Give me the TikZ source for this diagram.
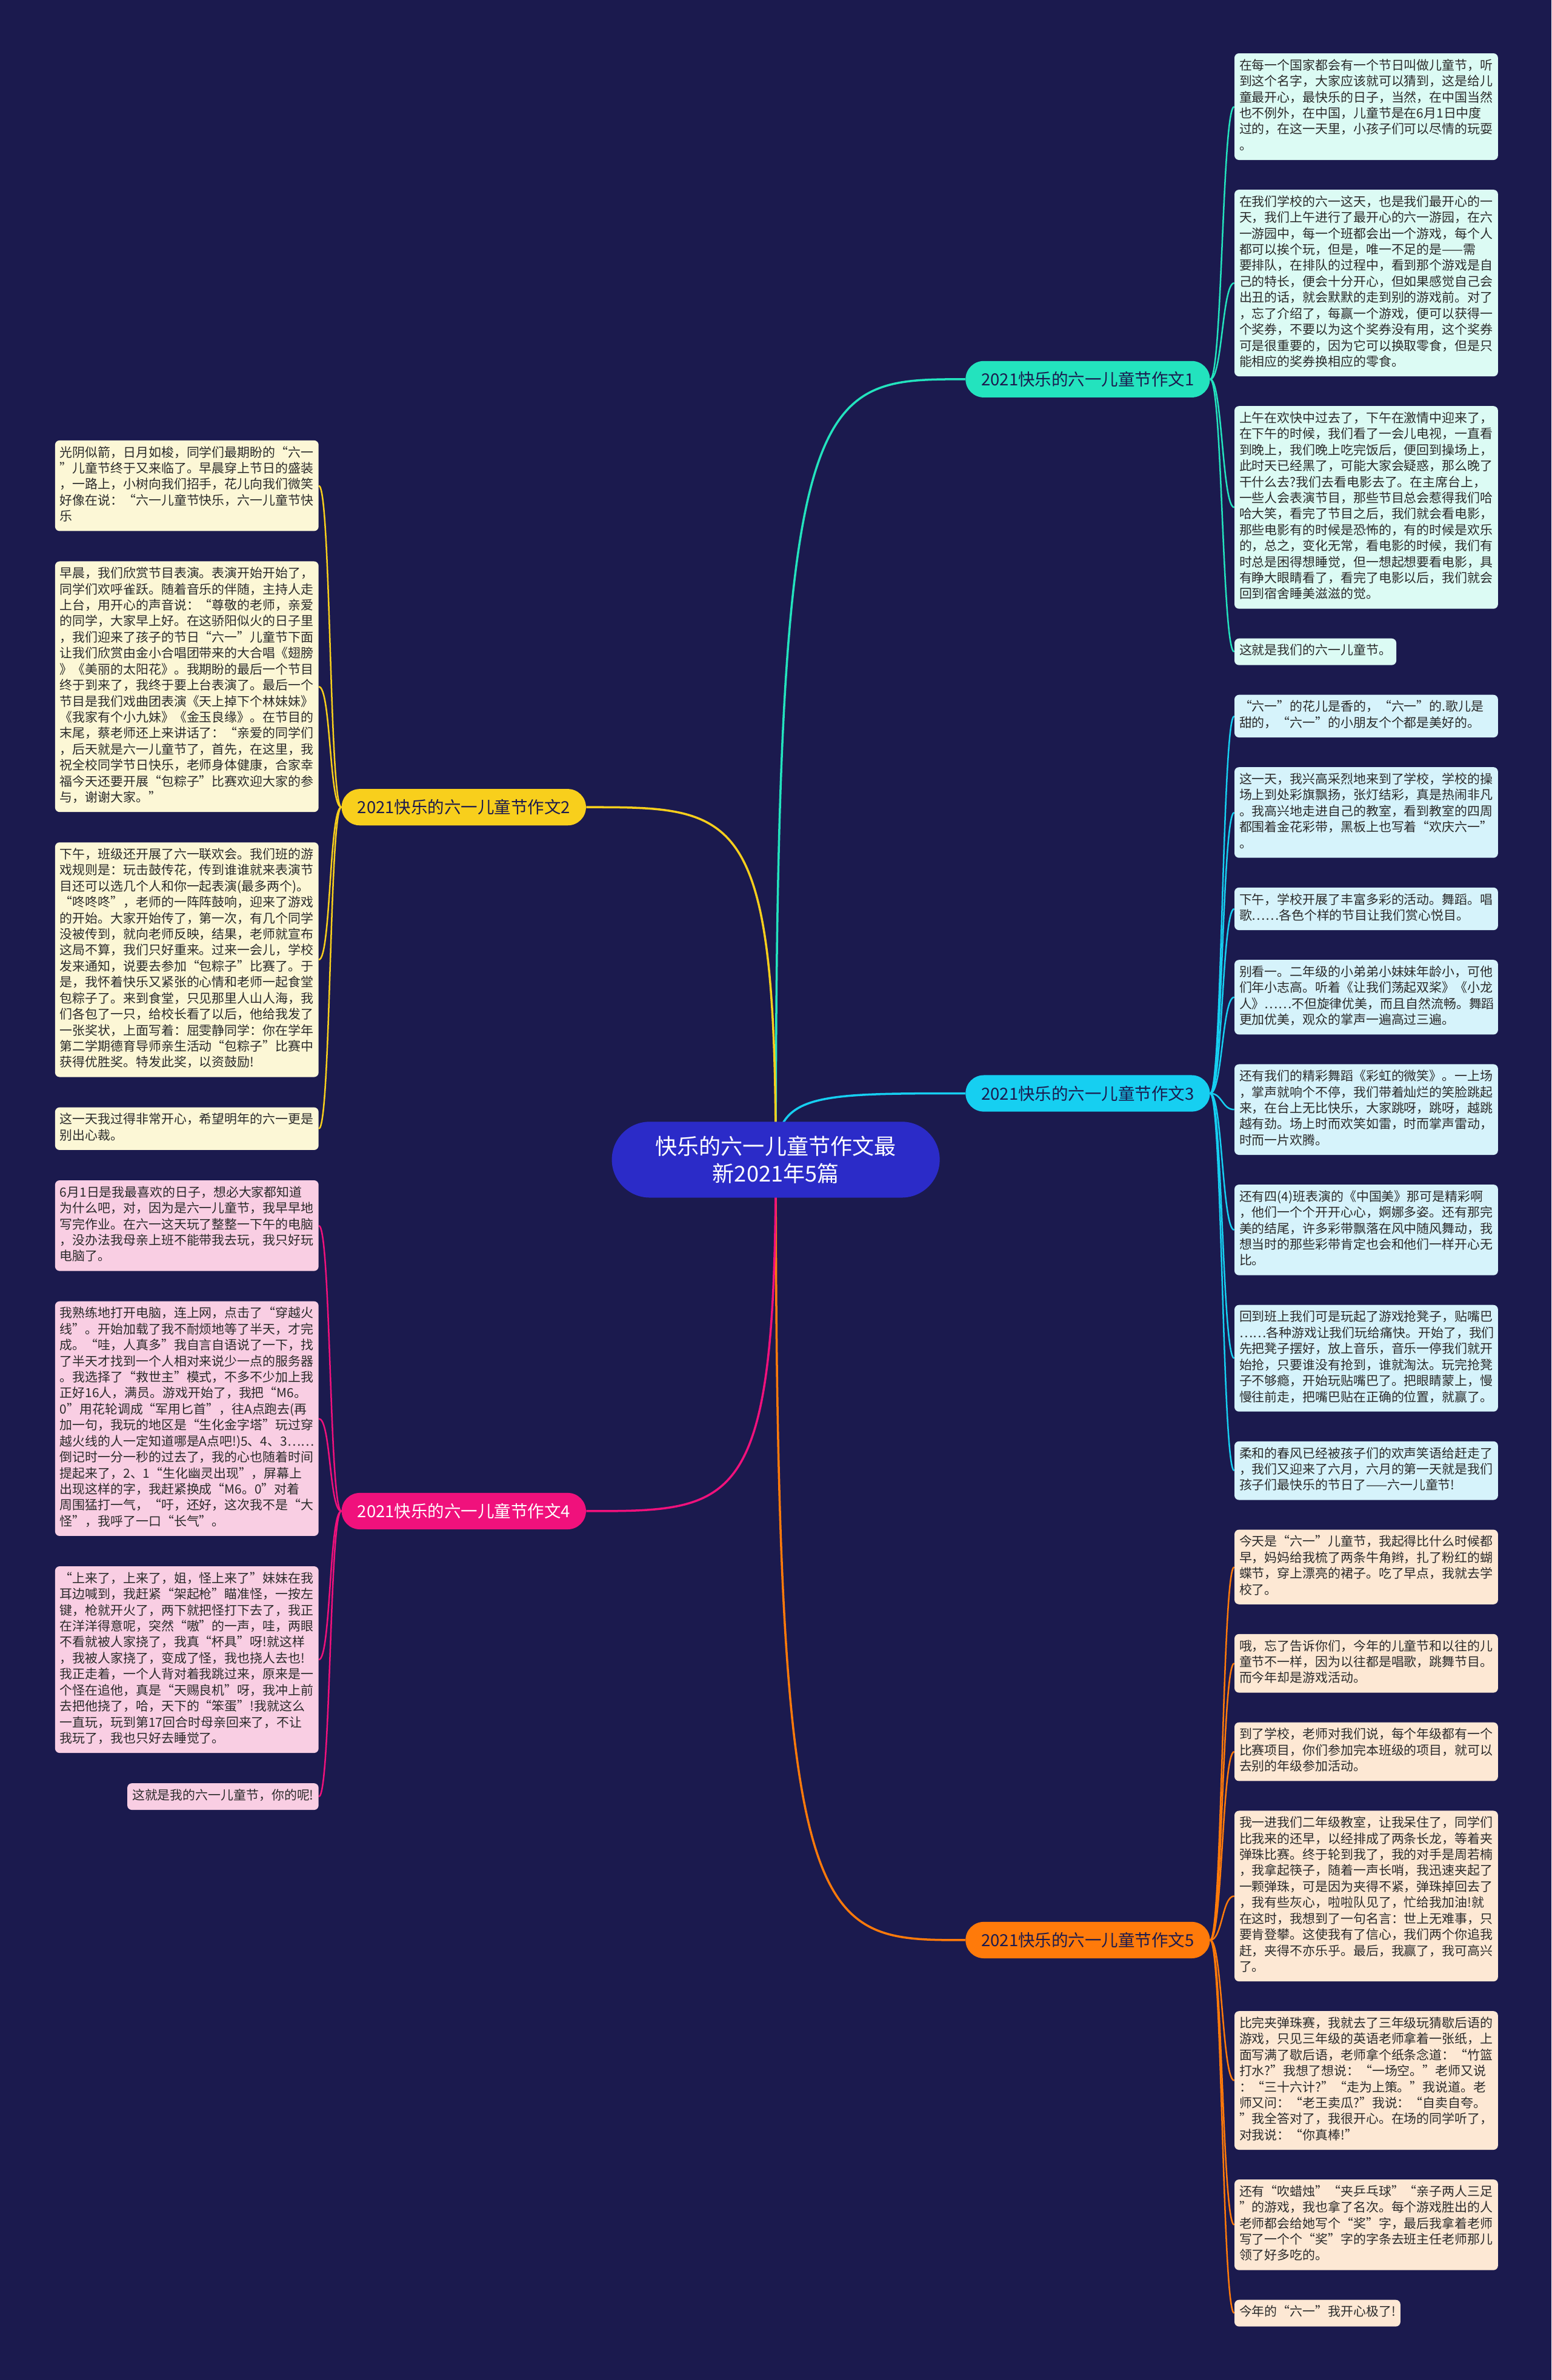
\documentclass[tikz,border=0pt]{standalone}
\usepackage{fontspec}
\setmainfont{Noto Sans CJK SC}
\usepackage{xcolor}
\usetikzlibrary{positioning,calc}
\definecolor{night}{HTML}{1B1A4E}
\definecolor{hubblue}{HTML}{2B2BC8}
\definecolor{ink}{HTML}{2A2A2A}
\definecolor{mint}{HTML}{23E3BE}
\definecolor{mintpale}{HTML}{DCFBF4}
\definecolor{sky}{HTML}{16CFF1}
\definecolor{skypale}{HTML}{D6F3FB}
\definecolor{amber}{HTML}{FF7A0A}
\definecolor{amberpale}{HTML}{FDE8D4}
\definecolor{gold}{HTML}{F8CF1C}
\definecolor{goldpale}{HTML}{FCF7D6}
\definecolor{rose}{HTML}{F0117C}
\definecolor{rosepale}{HTML}{F9CEE3}
\pgfdeclarelayer{bg}
\pgfsetlayers{bg,main}

\begin{document}
\begin{tikzpicture}[
    x=0.05cm, y=-0.05cm,
    node distance=0.985cm,
    leaf/.style={fill=#1, rounded corners=0.15cm, inner xsep=0.16cm, inner ysep=0.175cm,
      align=left, text=ink, font=\fontsize{11.88pt}{15pt}\selectfont,
      execute at begin node=\strut, execute at end node=\strut},
    wide/.style={text width=8.36cm},
    branch/.style={fill=#1, rounded corners=0.6cm, minimum width=8.05cm, minimum height=1.2cm,
      inner sep=0pt, text=night, font=\fontsize{15.6pt}{18pt}\selectfont},
    hub/.style={fill=hubblue, rounded corners=1.25cm, minimum width=10.8cm, minimum height=2.5cm,
      inner sep=0pt, align=center, text=white, font=\fontsize{20.5pt}{25.6pt}\selectfont},
    trunk/.style={draw=#1, line width=0.07cm},
    twig/.style={draw=#1, line width=0.05cm}
  ]
  \begin{pgfonlayer}{bg}
    \fill[night] (0,0) rectangle (1022,1568);
  \end{pgfonlayer}
  \useasboundingbox (0,0) rectangle (1022,1568);

  \begin{scope}[node distance=0.965cm]
  % essay 1
  \node[leaf=mintpale, wide, anchor=north west] (R1) at (813,35) {在每一个国家都会有一个节日叫做儿童节，听\\
到这个名字，大家应该就可以猜到，这是给儿\\
童最开心，最快乐的日子，当然，在中国当然\\
也不例外，在中国，儿童节是在6月1日中度\\
过的，在这一天里，小孩子们可以尽情的玩耍\\
。};
  \node[leaf=mintpale, wide, below=of R1.south west, anchor=north west] (R2) {在我们学校的六一这天，也是我们最开心的一\\
天，我们上午进行了最开心的六一游园，在六\\
一游园中，每一个班都会出一个游戏，每个人\\
都可以挨个玩，但是，唯一不足的是——需\\
要排队，在排队的过程中，看到那个游戏是自\\
己的特长，便会十分开心，但如果感觉自己会\\
出丑的话，就会默默的走到别的游戏前。对了\\
，忘了介绍了，每赢一个游戏，便可以获得一\\
个奖券，不要以为这个奖券没有用，这个奖券\\
可是很重要的，因为它可以换取零食，但是只\\
能相应的奖券换相应的零食。};
  \node[leaf=mintpale, wide, below=of R2.south west, anchor=north west] (R3) {上午在欢快中过去了，下午在激情中迎来了，\\
在下午的时候，我们看了一会儿电视，一直看\\
到晚上，我们晚上吃完饭后，便回到操场上，\\
此时天已经黑了，可能大家会疑惑，那么晚了\\
干什么去?我们去看电影去了。在主席台上，\\
一些人会表演节目，那些节目总会惹得我们哈\\
哈大笑，看完了节目之后，我们就会看电影，\\
那些电影有的时候是恐怖的，有的时候是欢乐\\
的，总之，变化无常，看电影的时候，我们有\\
时总是困得想睡觉，但一想起想要看电影，具\\
有睁大眼睛看了，看完了电影以后，我们就会\\
回到宿舍睡美滋滋的觉。};
  \node[leaf=mintpale, below=of R3.south west, anchor=north west] (R4) {这就是我们的六一儿童节。};

  % essay 3
  \node[leaf=skypale, wide, below=of R4.south west, anchor=north west] (R5) {“六一”的花儿是香的，“六一”的.歌儿是\\
甜的，“六一”的小朋友个个都是美好的。};
  \node[leaf=skypale, wide, below=of R5.south west, anchor=north west] (R6) {这一天，我兴高采烈地来到了学校，学校的操\\
场上到处彩旗飘扬，张灯结彩，真是热闹非凡\\
。我高兴地走进自己的教室，看到教室的四周\\
都围着金花彩带，黑板上也写着“欢庆六一”\\
。};
  \node[leaf=skypale, wide, below=of R6.south west, anchor=north west] (R7) {下午，学校开展了丰富多彩的活动。舞蹈。唱\\
歌……各色个样的节目让我们赏心悦目。};
  \node[leaf=skypale, wide, below=of R7.south west, anchor=north west] (R8) {别看一。二年级的小弟弟小妹妹年龄小，可他\\
们年小志高。听着《让我们荡起双桨》《小龙\\
人》……不但旋律优美，而且自然流畅。舞蹈\\
更加优美，观众的掌声一遍高过三遍。};
  \node[leaf=skypale, wide, below=of R8.south west, anchor=north west] (R9) {还有我们的精彩舞蹈《彩虹的微笑》。一上场\\
，掌声就响个不停，我们带着灿烂的笑脸跳起\\
来，在台上无比快乐，大家跳呀，跳呀，越跳\\
越有劲。场上时而欢笑如雷，时而掌声雷动，\\
时而一片欢腾。};
  \node[leaf=skypale, wide, below=of R9.south west, anchor=north west] (R10) {还有四(4)班表演的《中国美》那可是精彩啊\\
，他们一个个开开心心，婀娜多姿。还有那完\\
美的结尾，许多彩带飘落在风中随风舞动，我\\
想当时的那些彩带肯定也会和他们一样开心无\\
比。};
  \node[leaf=skypale, wide, below=of R10.south west, anchor=north west] (R11) {回到班上我们可是玩起了游戏抢凳子，贴嘴巴\\
……各种游戏让我们玩给痛快。开始了，我们\\
先把凳子摆好，放上音乐，音乐一停我们就开\\
始抢，只要谁没有抢到，谁就淘汰。玩完抢凳\\
子不够瘾，开始玩贴嘴巴了。把眼睛蒙上，慢\\
慢往前走，把嘴巴贴在正确的位置，就赢了。};
  \node[leaf=skypale, wide, below=of R11.south west, anchor=north west] (R12) {柔和的春风已经被孩子们的欢声笑语给赶走了\\
，我们又迎来了六月，六月的第一天就是我们\\
孩子们最快乐的节日了——六一儿童节!};

  % essay 5
  \node[leaf=amberpale, wide, below=of R12.south west, anchor=north west] (R13) {今天是“六一”儿童节，我起得比什么时候都\\
早，妈妈给我梳了两条牛角辫，扎了粉红的蝴\\
蝶节，穿上漂亮的裙子。吃了早点，我就去学\\
校了。};
  \node[leaf=amberpale, wide, below=of R13.south west, anchor=north west] (R14) {哦，忘了告诉你们，今年的儿童节和以往的儿\\
童节不一样，因为以往都是唱歌，跳舞节目。\\
而今年却是游戏活动。};
  \node[leaf=amberpale, wide, below=of R14.south west, anchor=north west] (R15) {到了学校，老师对我们说，每个年级都有一个\\
比赛项目，你们参加完本班级的项目，就可以\\
去别的年级参加活动。};
  \node[leaf=amberpale, wide, below=of R15.south west, anchor=north west] (R16) {我一进我们二年级教室，让我呆住了，同学们\\
比我来的还早，以经排成了两条长龙，等着夹\\
弹珠比赛。终于轮到我了，我的对手是周若楠\\
，我拿起筷子，随着一声长哨，我迅速夹起了\\
一颗弹珠，可是因为夹得不紧，弹珠掉回去了\\
，我有些灰心，啦啦队见了，忙给我加油!就\\
在这时，我想到了一句名言：世上无难事，只\\
要肯登攀。这使我有了信心，我们两个你追我\\
赶，夹得不亦乐乎。最后，我赢了，我可高兴\\
了。};
  \node[leaf=amberpale, wide, below=of R16.south west, anchor=north west] (R17) {比完夹弹珠赛，我就去了三年级玩猜歇后语的\\
游戏，只见三年级的英语老师拿着一张纸，上\\
面写满了歇后语，老师拿个纸条念道：“竹篮\\
打水?”我想了想说：“一场空。”老师又说\\
：“三十六计?”“走为上策。”我说道。老\\
师又问：“老王卖瓜?”我说：“自卖自夸。\\
”我全答对了，我很开心。在场的同学听了，\\
对我说：“你真棒!”};
  \node[leaf=amberpale, wide, below=of R17.south west, anchor=north west] (R18) {还有“吹蜡烛”“夹乒乓球”“亲子两人三足\\
”的游戏，我也拿了名次。每个游戏胜出的人\\
老师都会给她写个“奖”字，最后我拿着老师\\
写了一个个“奖”字的字条去班主任老师那儿\\
领了好多吃的。};
  \node[leaf=amberpale, below=of R18.south west, anchor=north west] (R19) {今年的“六一”我开心极了!};
  \end{scope}

  % essay 2
  \node[leaf=goldpale, wide, anchor=north east] (L1) at (210,290) {光阴似箭，日月如梭，同学们最期盼的“六一\\
”儿童节终于又来临了。早晨穿上节日的盛装\\
，一路上，小树向我们招手，花儿向我们微笑\\
好像在说：“六一儿童节快乐，六一儿童节快\\
乐};
  \node[leaf=goldpale, wide, below=of L1.south east, anchor=north east] (L2) {早晨，我们欣赏节目表演。表演开始开始了，\\
同学们欢呼雀跃。随着音乐的伴随，主持人走\\
上台，用开心的声音说：“尊敬的老师，亲爱\\
的同学，大家早上好。在这骄阳似火的日子里\\
，我们迎来了孩子的节日“六一”儿童节下面\\
让我们欣赏由金小合唱团带来的大合唱《翅膀\\
》《美丽的太阳花》。我期盼的最后一个节目\\
终于到来了，我终于要上台表演了。最后一个\\
节目是我们戏曲团表演《天上掉下个林妹妹》\\
《我家有个小九妹》《金玉良缘》。在节目的\\
末尾，蔡老师还上来讲话了：“亲爱的同学们\\
，后天就是六一儿童节了，首先，在这里，我\\
祝全校同学节日快乐，老师身体健康，合家幸\\
福今天还要开展“包粽子”比赛欢迎大家的参\\
与，谢谢大家。”};
  \node[leaf=goldpale, wide, below=of L2.south east, anchor=north east] (L3) {下午，班级还开展了六一联欢会。我们班的游\\
戏规则是：玩击鼓传花，传到谁谁就来表演节\\
目还可以选几个人和你一起表演(最多两个)。\\
“咚咚咚”，老师的一阵阵鼓响，迎来了游戏\\
的开始。大家开始传了，第一次，有几个同学\\
没被传到，就向老师反映，结果，老师就宣布\\
这局不算，我们只好重来。过来一会儿，学校\\
发来通知，说要去参加“包粽子”比赛了。于\\
是，我怀着快乐又紧张的心情和老师一起食堂\\
包粽子了。来到食堂，只见那里人山人海，我\\
们各包了一只，给校长看了以后，他给我发了\\
一张奖状，上面写着：屈雯静同学：你在学年\\
第二学期德育导师亲生活动“包粽子”比赛中\\
获得优胜奖。特发此奖，以资鼓励!};
  \node[leaf=goldpale, wide, below=of L3.south east, anchor=north east] (L4) {这一天我过得非常开心，希望明年的六一更是\\
别出心裁。};

  % essay 4
  \node[leaf=rosepale, wide, below=of L4.south east, anchor=north east] (L5) {6月1日是我最喜欢的日子，想必大家都知道\\
为什么吧，对，因为是六一儿童节，我早早地\\
写完作业。在六一这天玩了整整一下午的电脑\\
，没办法我母亲上班不能带我去玩，我只好玩\\
电脑了。};
  \node[leaf=rosepale, wide, below=of L5.south east, anchor=north east] (L6) {我熟练地打开电脑，连上网，点击了“穿越火\\
线”。开始加载了我不耐烦地等了半天，才完\\
成。“哇，人真多”我自言自语说了一下，找\\
了半天才找到一个人相对来说少一点的服务器\\
。我选择了“救世主”模式，不多不少加上我\\
正好16人，满员。游戏开始了，我把“M6。\\
0”用花轮调成“军用匕首”，往A点跑去(再\\
加一句，我玩的地区是“生化金字塔”玩过穿\\
越火线的人一定知道哪是A点吧!)5、4、3……\\
倒记时一分一秒的过去了，我的心也随着时间\\
提起来了，2、1“生化幽灵出现”，屏幕上\\
出现这样的字，我赶紧换成“M6。0”对着\\
周围猛打一气，“吁，还好，这次我不是“大\\
怪”，我呼了一口“长气”。};
  \node[leaf=rosepale, wide, below=of L6.south east, anchor=north east] (L7) {“上来了，上来了，姐，怪上来了”妹妹在我\\
耳边喊到，我赶紧“架起枪”瞄准怪，一按左\\
键，枪就开火了，两下就把怪打下去了，我正\\
在洋洋得意呢，突然“嗷”的一声，哇，两眼\\
不看就被人家挠了，我真“杯具”呀!就这样\\
，我被人家挠了，变成了怪，我也挠人去也!\\
我正走着，一个人背对着我跳过来，原来是一\\
个怪在追他，真是“天赐良机”呀，我冲上前\\
去把他挠了，哈，天下的“笨蛋”!我就这么\\
一直玩，玩到第17回合时母亲回来了，不让\\
我玩了，我也只好去睡觉了。};
  \node[leaf=rosepale, below=of L7.south east, anchor=north east] (L8) {这就是我的六一儿童节，你的呢!};

  % branches and centre
  \coordinate (m1) at ($(R1.west)!0.5!(R4.west)$);
  \coordinate (m3) at ($(R5.west)!0.5!(R12.west)$);
  \coordinate (m5) at ($(R13.west)!0.5!(R19.west)$);
  \coordinate (m2) at ($(L1.east)!0.5!(L4.east)$);
  \coordinate (m4) at ($(L5.east)!0.5!(L8.east)$);
  \node[branch=mint] (b1) at (716.5,0 |- m1) {2021快乐的六一儿童节作文1};
  \node[branch=sky] (b3) at (716.5,0 |- m3) {2021快乐的六一儿童节作文3};
  \node[branch=amber] (b5) at (716.5,0 |- m5) {2021快乐的六一儿童节作文5};
  \node[branch=gold] (b2) at (305.5,0 |- m2) {2021快乐的六一儿童节作文2};
  \node[branch=rose, text=white] (b4) at (305.5,0 |- m4) {2021快乐的六一儿童节作文4};
  \coordinate (m0) at ($(b1.west)!0.5!(b5.west)$);
  \node[hub] (root) at (511,0 |- m0) {快乐的六一儿童节作文最\\新2021年5篇};

  \begin{pgfonlayer}{bg}
    \foreach \b/\c in {b1/mint, b3/sky, b5/amber} {
      \draw[trunk=\c] (root.center) .. controls (root.center |- \b.west) and ($(root.center |- \b.west)!0.2!(\b.west)$) .. (\b.west);
    }
    \foreach \b/\c in {b2/gold, b4/rose} {
      \draw[trunk=\c] (root.center) .. controls (root.center |- \b.east) and ($(root.center |- \b.east)!0.2!(\b.east)$) .. (\b.east);
    }
    \foreach \b/\c/\list in {b1/mint/{R1,R2,R3,R4}, b3/sky/{R5,R6,R7,R8,R9,R10,R11,R12}, b5/amber/{R13,R14,R15,R16,R17,R18,R19}} {
      \foreach \l in \list {
        \draw[twig=\c] (\b.east) .. controls ($(\b.east)+(8,0)$) and ($(\l.west)+(-8,0)$) .. (\l.west);
      }
    }
    \foreach \b/\c/\list in {b2/gold/{L1,L2,L3,L4}, b4/rose/{L5,L6,L7,L8}} {
      \foreach \l in \list {
        \draw[twig=\c] (\b.west) .. controls ($(\b.west)+(-8,0)$) and ($(\l.east)+(8,0)$) .. (\l.east);
      }
    }
  \end{pgfonlayer}
\end{tikzpicture}
\end{document}
